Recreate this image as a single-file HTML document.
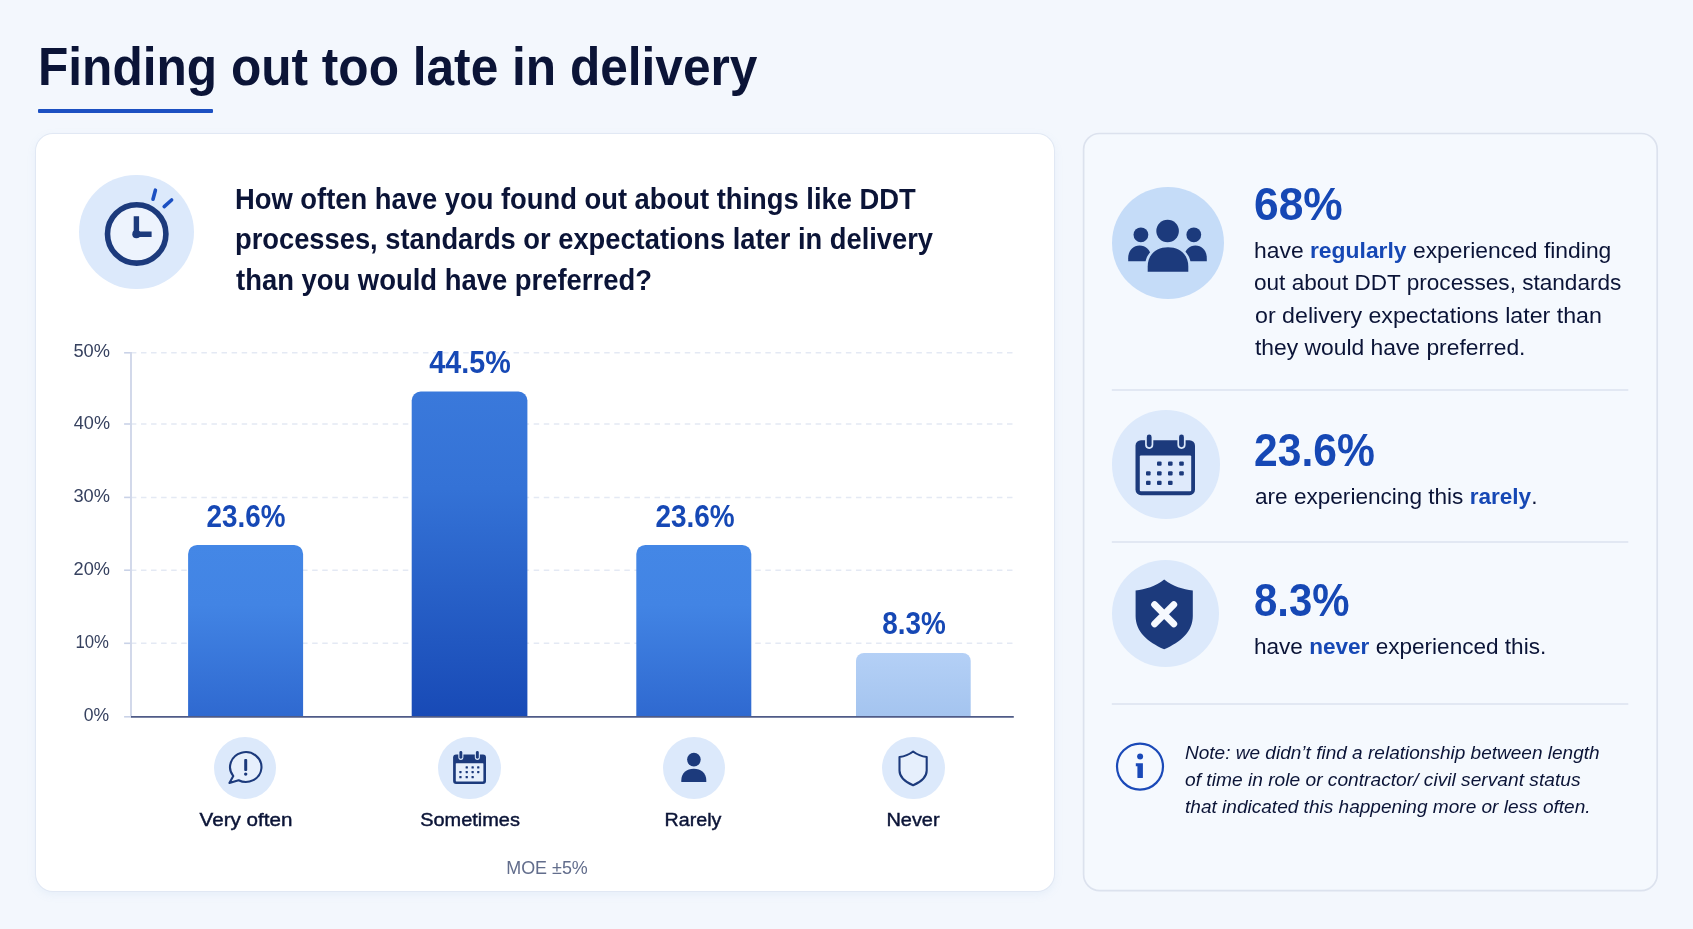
<!DOCTYPE html>
<html lang="en">
<head>
<meta charset="utf-8">
<title>Finding out too late in delivery</title>
<style>
  html, body { margin: 0; padding: 0; }
  body {
    width: 1693px; height: 929px; overflow: hidden; position: relative;
    background: #f3f7fd;
    font-family: "Liberation Sans", sans-serif;
    color: #0b1437;
  }
  .t { position: absolute; white-space: nowrap; line-height: 1; }
  .b { font-weight: 700; }
  .it { font-style: italic; }
  .ink { color: #0b1437; }
  .blue { color: #1648b5; }
  .t b { color: #1648b5; font-weight: 700; }
  .yl { color: #36415f; }
  .cat { font-weight: 400; -webkit-text-stroke: 0.45px #0b1437; }
  .moe { color: #626d8c; }

  #rule { position: absolute; left: 38.4px; top: 108.9px; width: 174.9px; height: 3.8px; border-radius: 1px; background: #1c50c2; }

  #cardL { position: absolute; left: 36px; top: 134px; width: 1018px; height: 757px; background: #ffffff;
           border-radius: 17px; box-sizing: border-box;
           box-shadow: 0 0 0 1px #e1e8f4, 0 3px 10px rgba(140,175,220,0.13); }
  #cardR { position: absolute; left: 1082.8px; top: 133px; width: 574.6px; height: 758.4px; background: #f5f9fe;
           border: 1.6px solid #dbe2ef; border-radius: 18px; box-sizing: border-box; }

  .circ { position: absolute; border-radius: 50%; background: #dce9fb; }
  .grid { position: absolute; left: 130.9px; width: 882.9px; height: 1.6px; background: repeating-linear-gradient(90deg, #e2e8f4 0, #e2e8f4 5.5px, rgba(226,232,244,0) 5.5px, rgba(226,232,244,0) 10.07px); }
  .tick { position: absolute; left: 124.1px; width: 7px; height: 1.7px; background: #c9d2e7; }
  #yaxis { position: absolute; left: 130px; top: 352px; width: 1.8px; height: 365px; background: #cfd6e8; }
  #xaxis { position: absolute; left: 131px; top: 715.9px; width: 882.8px; height: 1.8px; background: #485480; }
  .bar { position: absolute; border-radius: 8.5px 8.5px 0 0; }
  .div { position: absolute; left: 1111.8px; width: 516.5px; height: 1.5px; background: #dae2f0; }
  svg { position: absolute; left: 0; top: 0; overflow: visible; }
</style>
</head>
<body>

<div id="rule"></div>
<div id="cardL"></div>
<svg width="1693" height="929" viewBox="0 0 1693 929"><rect x="1083.6" y="133.5" width="573.6" height="757.1" rx="16" fill="#f5f9fe" stroke="#dce2ee" stroke-width="1.7"/></svg>

<!-- chart (svg for sub-pixel accuracy) -->
<svg width="1693" height="929" viewBox="0 0 1693 929">
  <defs>
    <linearGradient id="gA" x1="0" y1="0" x2="0" y2="1"><stop offset="0" stop-color="#4487e6"/><stop offset="0.35" stop-color="#4284e4"/><stop offset="1" stop-color="#2f69d0"/></linearGradient>
    <linearGradient id="gB" x1="0" y1="0" x2="0" y2="1"><stop offset="0" stop-color="#3a79db"/><stop offset="0.3" stop-color="#3472d6"/><stop offset="0.6" stop-color="#2861c8"/><stop offset="1" stop-color="#184ab6"/></linearGradient>
    <linearGradient id="gC" x1="0" y1="0" x2="0" y2="1"><stop offset="0" stop-color="#b4d0f6"/><stop offset="1" stop-color="#a4c4ef"/></linearGradient>
  </defs>
    <path d="M130.9 352.8 H1013.8" stroke="#e4e9f4" stroke-width="1.5" stroke-dasharray="5.5 4.57" fill="none"/>
  <path d="M130.9 424.0 H1013.8" stroke="#e4e9f4" stroke-width="1.5" stroke-dasharray="5.5 4.57" fill="none"/>
  <path d="M130.9 497.4 H1013.8" stroke="#e4e9f4" stroke-width="1.5" stroke-dasharray="5.5 4.57" fill="none"/>
  <path d="M130.9 570.2 H1013.8" stroke="#e4e9f4" stroke-width="1.5" stroke-dasharray="5.5 4.57" fill="none"/>
  <path d="M130.9 643.3 H1013.8" stroke="#e4e9f4" stroke-width="1.5" stroke-dasharray="5.5 4.57" fill="none"/>
  <path d="M124.1 352.8 H131" stroke="#c9d2e7" stroke-width="1.6" fill="none"/>
  <path d="M124.1 424.0 H131" stroke="#c9d2e7" stroke-width="1.6" fill="none"/>
  <path d="M124.1 497.4 H131" stroke="#c9d2e7" stroke-width="1.6" fill="none"/>
  <path d="M124.1 570.2 H131" stroke="#c9d2e7" stroke-width="1.6" fill="none"/>
  <path d="M124.1 643.3 H131" stroke="#c9d2e7" stroke-width="1.6" fill="none"/>
  <path d="M124.1 716.8 H131" stroke="#c9d2e7" stroke-width="1.6" fill="none"/>
  <path d="M131.0 352 V717.5" stroke="#d0d7e9" stroke-width="1.9" fill="none"/>
  <path d="M188.1 716.6 V553.9 A9 9 0 0 1 197.1 544.9 H294.1 A9 9 0 0 1 303.1 553.9 V716.6 Z" fill="url(#gA)"/>
  <path d="M411.7 716.6 V400.6 A9 9 0 0 1 420.7 391.6 H518.4 A9 9 0 0 1 527.4 400.6 V716.6 Z" fill="url(#gB)"/>
  <path d="M636.3 716.6 V553.9 A9 9 0 0 1 645.3 544.9 H742.3 A9 9 0 0 1 751.3 553.9 V716.6 Z" fill="url(#gA)"/>
  <path d="M856.0 716.6 V660.9 A8 8 0 0 1 864.0 652.9 H962.7 A8 8 0 0 1 970.7 660.9 V716.6 Z" fill="url(#gC)"/>
  <path d="M131.0 716.8 H1013.8" stroke="#4f5b87" stroke-width="1.7" fill="none"/>
</svg>

<!-- icon background circles -->
<div class="circ" style="left:79.4px; top:174.9px; width:114.6px; height:114.6px;"></div>
<div class="circ" style="left:214.4px; top:736.9px; width:62px; height:62px;"></div>
<div class="circ" style="left:438.3px; top:736.8px; width:62.5px; height:62.5px;"></div>
<div class="circ" style="left:662.7px; top:736.8px; width:62.2px; height:62.2px;"></div>
<div class="circ" style="left:882.4px; top:736.8px; width:62.2px; height:62.2px;"></div>
<div class="circ" style="left:1111.5px; top:187px; width:112.3px; height:112.3px; background:#c5dcf8;"></div>
<div class="circ" style="left:1111.5px; top:410.2px; width:108.4px; height:108.4px;"></div>
<div class="circ" style="left:1111.8px; top:560.1px; width:107px; height:107px;"></div>


<!-- all icons in one SVG using page coordinates -->
<svg width="1693" height="929" viewBox="0 0 1693 929">
  <!-- dividers -->
  <path d="M1111.8 390.0 H1628.3 M1111.8 542.1 H1628.3 M1111.8 704.0 H1628.3" stroke="#dbe2ef" stroke-width="1.5" fill="none"/>

  <!-- clock -->
  <g>
    <circle cx="136.7" cy="233.9" r="29.2" fill="#edf3fd" stroke="#1c3a7c" stroke-width="5.6"/>
    <path d="M136.4 216.2 V234.2 H151.6" fill="none" stroke="#1c3a7c" stroke-width="5.4" stroke-linecap="butt" stroke-linejoin="round"/>
    <circle cx="136.4" cy="234.2" r="4.1" fill="#1c3a7c"/>
    <path d="M155.4 190.2 L153.0 199.2" stroke="#1c50c2" stroke-width="3.6" stroke-linecap="round"/>
    <path d="M171.6 200.0 L164.2 206.6" stroke="#1c50c2" stroke-width="3.6" stroke-linecap="round"/>
  </g>

  <!-- speech bubble with ! -->
  <g>
    <path d="M233.3 776.1 A15.7 14.9 0 1 1 238.6 780.3 L229.4 783.0 Z" fill="#e6effc" stroke="#1c3a7c" stroke-width="2.1" stroke-linejoin="round"/>
    <rect x="244.2" y="759.0" width="3" height="11.9" rx="1" fill="#1c3a7c"/>
    <circle cx="245.7" cy="774.1" r="1.7" fill="#1c3a7c"/>
  </g>

  <!-- small calendar -->
  <g>
    <rect x="453.1" y="754.6" width="32.9" height="29.3" rx="3" fill="#1c3a7c"/>
    <rect x="455.8" y="763.2" width="27.6" height="18.2" rx="0.6" fill="#e6effc"/>
    <rect x="459.4" y="751.0" width="2.9" height="7.8" rx="1.45" fill="#1c3a7c" stroke="#dce9fb" stroke-width="2.2" paint-order="stroke"/>
    <rect x="475.9" y="751.0" width="2.9" height="7.8" rx="1.45" fill="#1c3a7c" stroke="#dce9fb" stroke-width="2.2" paint-order="stroke"/>
    <g fill="#1c3a7c">
      <rect x="465.6" y="766.2" width="2.3" height="2.3" rx="0.6"/><rect x="471.5" y="766.2" width="2.3" height="2.3" rx="0.6"/><rect x="477.1" y="766.2" width="2.3" height="2.3" rx="0.6"/>
      <rect x="459.3" y="770.9" width="2.3" height="2.3" rx="0.6"/><rect x="465.6" y="770.9" width="2.3" height="2.3" rx="0.6"/><rect x="471.5" y="770.9" width="2.3" height="2.3" rx="0.6"/><rect x="477.1" y="770.9" width="2.3" height="2.3" rx="0.6"/>
      <rect x="459.3" y="776.0" width="2.3" height="2.3" rx="0.6"/><rect x="465.6" y="776.0" width="2.3" height="2.3" rx="0.6"/><rect x="471.5" y="776.0" width="2.3" height="2.3" rx="0.6"/>
    </g>
  </g>

  <!-- small person -->
  <g fill="#1c3a7c">
    <circle cx="693.9" cy="759.6" r="6.8"/>
    <path d="M681.3 782.1 V780.4 C681.3 773.0 686.6 768.8 693.8 768.8 C701.0 768.8 706.3 773.0 706.3 780.4 V782.1 Z"/>
  </g>

  <!-- small shield outline -->
  <path d="M913.1 751.5 C908.9 754.8 904.2 756.5 899.5 757.0 V770.4 C899.5 777.6 905.6 782.0 913.1 785.2 C920.6 782.0 926.7 777.6 926.7 770.4 V757.0 C922.0 756.5 917.3 754.8 913.1 751.5 Z" fill="#e6effc" stroke="#1c3a7c" stroke-width="2.1" stroke-linejoin="round"/>

  <!-- people group -->
  <g fill="#1c3a7c">
    <circle cx="1140.9" cy="234.8" r="7.4"/>
    <circle cx="1193.8" cy="234.8" r="7.4"/>
    <path d="M1128.2 261.2 V258.2 C1128.2 250.6 1132.8 245.4 1139.6 245.4 C1146.4 245.4 1151.2 250.6 1151.2 258.2 V261.2 Z"/>
    <path d="M1184.0 261.2 V258.2 C1184.0 250.6 1188.8 245.4 1195.4 245.4 C1202.2 245.4 1206.8 250.6 1206.8 258.2 V261.2 Z"/>
    <path d="M1147.7 271.7 V266.4 C1147.7 255.0 1156.0 247.2 1168.0 247.2 C1180.0 247.2 1188.3 255.0 1188.3 266.4 V271.7 Z" stroke="#c5dcf8" stroke-width="5.2" paint-order="stroke"/>
    <circle cx="1167.6" cy="231.0" r="11.3"/>
  </g>

  <!-- big calendar -->
  <g>
    <rect x="1135.5" y="440.2" width="59.5" height="55.0" rx="5.5" fill="#1c3a7c"/>
    <rect x="1139.8" y="455.4" width="51.4" height="35.8" rx="1" fill="#dfeafb"/>
    <rect x="1146.8" y="434.6" width="4.8" height="12.6" rx="2.4" fill="#1c3a7c" stroke="#dce9fb" stroke-width="3.4" paint-order="stroke"/>
    <rect x="1179.1" y="434.6" width="4.8" height="12.6" rx="2.4" fill="#1c3a7c" stroke="#dce9fb" stroke-width="3.4" paint-order="stroke"/>
    <g fill="#1c3a7c">
      <rect x="1157.0" y="461.4" width="4.6" height="4.4" rx="1.1"/><rect x="1168.0" y="461.4" width="4.6" height="4.4" rx="1.1"/><rect x="1179.2" y="461.4" width="4.6" height="4.4" rx="1.1"/>
      <rect x="1146.0" y="471.2" width="4.6" height="4.4" rx="1.1"/><rect x="1157.0" y="471.2" width="4.6" height="4.4" rx="1.1"/><rect x="1168.0" y="471.2" width="4.6" height="4.4" rx="1.1"/><rect x="1179.2" y="471.2" width="4.6" height="4.4" rx="1.1"/>
      <rect x="1146.0" y="480.7" width="4.6" height="4.4" rx="1.1"/><rect x="1157.0" y="480.7" width="4.6" height="4.4" rx="1.1"/><rect x="1168.0" y="480.7" width="4.6" height="4.4" rx="1.1"/>
    </g>
  </g>

  <!-- big shield with x -->
  <g>
    <path d="M1164.2 579.4 C1155.4 586.2 1145.4 589.4 1135.6 590.4 V616.0 C1135.6 631.6 1147.6 642.0 1164.2 649.3 C1180.8 642.0 1192.8 631.6 1192.8 616.0 V590.4 C1183.0 589.4 1173.0 586.2 1164.2 579.4 Z" fill="#1c3a7c"/>
    <path d="M1154.6 604.7 L1173.8 623.9 M1173.8 604.7 L1154.6 623.9" stroke="#f6f9fe" stroke-width="6.8" stroke-linecap="round"/>
  </g>

  <!-- info icon -->
  <g>
    <circle cx="1140.0" cy="766.6" r="23.0" fill="none" stroke="#1a49b8" stroke-width="2.2"/>
    <circle cx="1140.1" cy="756.6" r="3.0" fill="#1a49b8"/>
    <path d="M1135.8 763.3 H1142.9 V777.4 Q1142.9 778.1 1142.2 778.1 H1138.1 Q1137.4 778.1 1137.4 777.4 V766.2 H1135.8 Z" fill="#1a49b8"/>
  </g>
</svg>

<div id="txt" style="position:absolute;left:0;top:0;width:1693px;height:929px;will-change:transform;">
<div id="title" class="t b ink" style="left:38.22px; top:39.84px; font-size:54.3px; transform-origin:0 0; transform:scaleX(0.9138);">Finding out too late in delivery</div>
<div id="q1" class="t b ink" style="left:234.66px; top:185.48px; font-size:29.2px; transform-origin:0 0; transform:scaleX(0.9371);">How often have you found out about things like DDT</div>
<div id="q2" class="t b ink" style="left:234.69px; top:224.68px; font-size:29.2px; transform-origin:0 0; transform:scaleX(0.9354);">processes, standards or expectations later in delivery</div>
<div id="q3" class="t b ink" style="left:235.93px; top:266.13px; font-size:29.2px; transform-origin:0 0; transform:scaleX(0.9394);">than you would have preferred?</div>
<div id="y0" class="t yl" style="left:109.64px; top:340.92px; font-size:19px; transform-origin:100% 0; transform:translateX(-100%) scaleX(0.9608);">50%</div>
<div id="y1" class="t yl" style="left:109.64px; top:413.12px; font-size:19px; transform-origin:100% 0; transform:translateX(-100%) scaleX(0.9525);">40%</div>
<div id="y2" class="t yl" style="left:109.65px; top:485.92px; font-size:19px; transform-origin:100% 0; transform:translateX(-100%) scaleX(0.9613);">30%</div>
<div id="y3" class="t yl" style="left:109.65px; top:559.12px; font-size:19px; transform-origin:100% 0; transform:translateX(-100%) scaleX(0.9582);">20%</div>
<div id="y4" class="t yl" style="left:108.50px; top:631.72px; font-size:19px; transform-origin:100% 0; transform:translateX(-100%) scaleX(0.8808);">10%</div>
<div id="y5" class="t yl" style="left:108.68px; top:704.72px; font-size:19px; transform-origin:100% 0; transform:translateX(-100%) scaleX(0.9236);">0%</div>
<div id="v1" class="t b blue" style="left:245.56px; top:502.13px; font-size:30.8px; transform-origin:50% 0; transform:translateX(-50%) scaleX(0.9036);">23.6%</div>
<div id="v2" class="t b blue" style="left:469.96px; top:348.33px; font-size:30.8px; transform-origin:50% 0; transform:translateX(-50%) scaleX(0.9317);">44.5%</div>
<div id="v3" class="t b blue" style="left:694.76px; top:502.13px; font-size:30.8px; transform-origin:50% 0; transform:translateX(-50%) scaleX(0.9071);">23.6%</div>
<div id="v4" class="t b blue" style="left:913.70px; top:608.63px; font-size:30.8px; transform-origin:50% 0; transform:translateX(-50%) scaleX(0.9050);">8.3%</div>
<div id="c1" class="t cat ink" style="left:246.29px; top:810.30px; font-size:19.2px; transform-origin:50% 0; transform:translateX(-50%) scaleX(1.0741);">Very often</div>
<div id="c2" class="t cat ink" style="left:469.64px; top:810.20px; font-size:19.2px; transform-origin:50% 0; transform:translateX(-50%) scaleX(1.0394);">Sometimes</div>
<div id="c3" class="t cat ink" style="left:693.19px; top:810.20px; font-size:19.2px; transform-origin:50% 0; transform:translateX(-50%) scaleX(1.0234);">Rarely</div>
<div id="c4" class="t cat ink" style="left:912.58px; top:810.20px; font-size:19.2px; transform-origin:50% 0; transform:translateX(-50%) scaleX(1.0399);">Never</div>
<div id="moe" class="t moe" style="left:547.20px; top:858.64px; font-size:18.5px; transform-origin:50% 0; transform:translateX(-50%) scaleX(0.9694);">MOE ±5%</div>
<div id="big1" class="t b blue" style="left:1254.39px; top:180.79px; font-size:46.2px; transform-origin:0 0; transform:scaleX(0.9600);">68%</div>
<div id="b1" class="t ink" style="left:1253.95px; top:239.84px; font-size:22.4px; transform-origin:0 0; transform:scaleX(1.0216);">have <b>regularly</b> experienced finding</div>
<div id="b2" class="t ink" style="left:1253.86px; top:272.24px; font-size:22.4px; transform-origin:0 0; transform:scaleX(1.0085);">out about DDT processes, standards</div>
<div id="b3" class="t ink" style="left:1254.76px; top:304.79px; font-size:22.4px; transform-origin:0 0; transform:scaleX(1.0361);">or delivery expectations later than</div>
<div id="b4" class="t ink" style="left:1255.02px; top:337.34px; font-size:22.4px; transform-origin:0 0; transform:scaleX(1.0201);">they would have preferred.</div>
<div id="big2" class="t b blue" style="left:1254.43px; top:427.09px; font-size:46.2px; transform-origin:0 0; transform:scaleX(0.9222);">23.6%</div>
<div id="b5" class="t ink" style="left:1254.76px; top:485.54px; font-size:22.4px; transform-origin:0 0; transform:scaleX(1.0084);">are experiencing this <b>rarely</b>.</div>
<div id="big3" class="t b blue" style="left:1254.37px; top:576.59px; font-size:46.2px; transform-origin:0 0; transform:scaleX(0.9070);">8.3%</div>
<div id="b6" class="t ink" style="left:1254.07px; top:636.04px; font-size:22.4px; transform-origin:0 0; transform:scaleX(1.0075);">have <b>never</b> experienced this.</div>
<div id="n1" class="t it ink" style="left:1185.16px; top:744.09px; font-size:18.8px; transform-origin:0 0; transform:scaleX(1.0131);">Note: we didn’t find a relationship between length</div>
<div id="n2" class="t it ink" style="left:1185.03px; top:770.79px; font-size:18.8px; transform-origin:0 0; transform:scaleX(1.0213);">of time in role or contractor/ civil servant status</div>
<div id="n3" class="t it ink" style="left:1184.54px; top:797.99px; font-size:18.8px; transform-origin:0 0; transform:scaleX(1.0143);">that indicated this happening more or less often.</div>
</div>

</body>
</html>
